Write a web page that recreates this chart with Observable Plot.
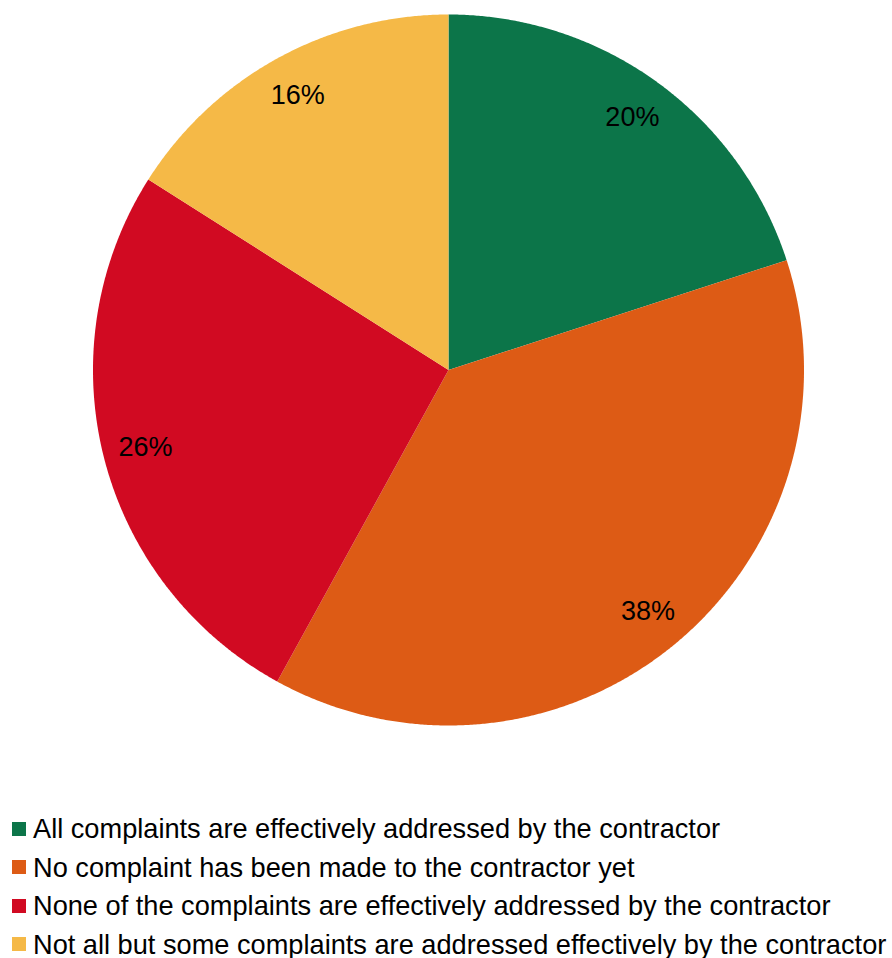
<!DOCTYPE html>
<html>
<head>
<meta charset="utf-8">
<script src="https://cdn.jsdelivr.net/npm/d3@7"></script>
<script src="https://cdn.jsdelivr.net/npm/@observablehq/plot@0.6"></script>
<style>
  body { margin: 0; background: #fff; font-family: "Liberation Sans", Arial, sans-serif; }
  #wrap { position: relative; width: 892px; height: 958px; }
  #legend { position: absolute; left: 12px; top: 815px; }
  .row { display: flex; align-items: center; height: 27px; line-height: 27px; margin-bottom: 11.5px; font-size: 27.2px; color: #000; white-space: nowrap; }
  .row:last-child { margin-bottom: 0; }
  .sw { width: 14px; height: 14px; margin-right: 7px; flex: none; }
</style>
</head>
<body>
<div id="wrap"><div id="chart"></div><div id="legend"></div></div>
<script>
const categories = [
  "All complaints are effectively addressed by the contractor",
  "No complaint has been made to the contractor yet",
  "None of the complaints are effectively addressed by the contractor",
  "Not all but some complaints are addressed effectively by the contractor"
];
const values = [20, 38, 26, 16];
const labels = ["20%", "38%", "26%", "16%"];
const colors = ["#0c7549", "#dd5b15", "#d10a22", "#f5b947"];

const data = categories.map((c, i) => ({category: c, value: values[i], label: labels[i]}));
const arcs = d3.pie().sort(null).value(d => d.value)(data);

// polygon outline of each slice (angle measured clockwise from north)
const pts = [];
arcs.forEach((a, i) => {
  const c = a.data.category;
  pts.push({category: c, x: 0, y: 0});
  const n = Math.max(2, Math.ceil((a.endAngle - a.startAngle) / 0.005));
  for (let k = 0; k <= n; k++) {
    const t = a.startAngle + (a.endAngle - a.startAngle) * k / n;
    pts.push({category: c, x: Math.sin(t), y: Math.cos(t)});
  }
  pts.push({category: c, x: 0, y: 0});
});
const lbl = arcs.map(a => {
  const m = (a.startAngle + a.endAngle) / 2;
  const r = 0.88;
  return {label: a.data.label, x: r * Math.sin(m), y: r * Math.cos(m)};
});

const R = 355.5, cx = 448, cy = 369.5, W = 892, H = 760;
const chart = Plot.plot({
  width: W, height: H,
  marginLeft: cx - R, marginRight: W - (cx + R),
  marginTop: cy - R, marginBottom: H - (cy + R),
  x: {domain: [-1, 1], axis: null},
  y: {domain: [-1, 1], axis: null},
  color: {domain: categories, range: colors},
  style: {fontFamily: "Liberation Sans, Arial, sans-serif", background: "#fff"},
  marks: [
    Plot.line(pts, {x: "x", y: "y", z: "category", fill: "category", stroke: null, curve: "linear"}),
    Plot.text(lbl, {x: "x", y: "y", text: "label", fontSize: 27, fill: "#000"})
  ]
});
document.getElementById("chart").appendChild(chart);

const leg = document.getElementById("legend");
categories.forEach((c, i) => {
  const row = document.createElement("div");
  row.className = "row";
  const sw = document.createElement("span");
  sw.className = "sw"; sw.style.background = colors[i];
  const tx = document.createElement("span");
  tx.textContent = c;
  row.appendChild(sw); row.appendChild(tx);
  leg.appendChild(row);
});
</script>
</body>
</html>
